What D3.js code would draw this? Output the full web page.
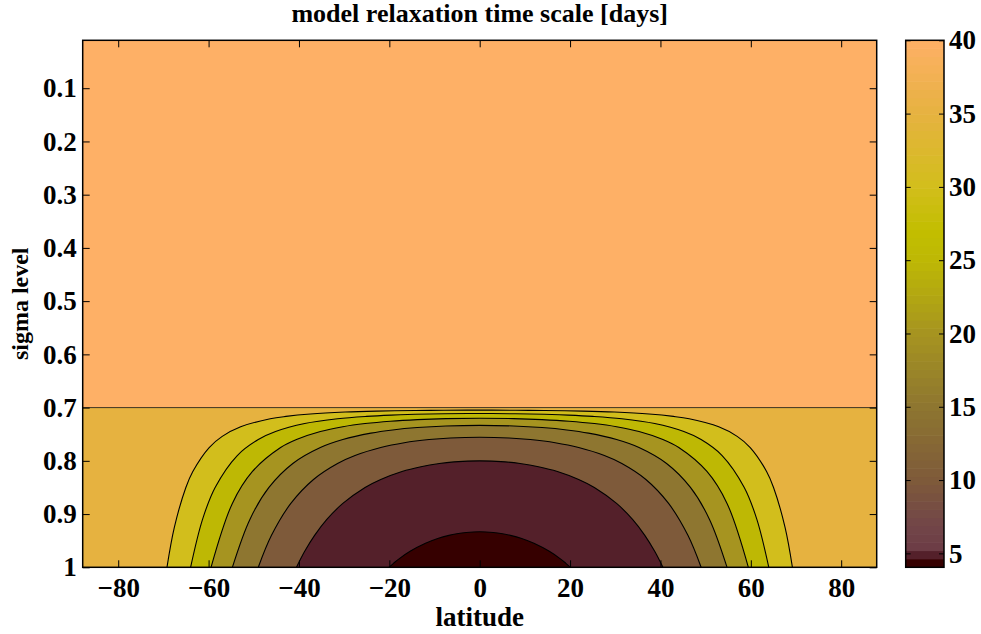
<!DOCTYPE html>
<html><head><meta charset="utf-8">
<script src="https://cdn.jsdelivr.net/npm/d3@7"></script>
<style>
body{margin:0;background:#fff}
svg{display:block}
text{font-family:"Liberation Serif","Times New Roman",serif;font-weight:bold;fill:#000}
</style>
</head><body>
<svg id="chart" width="981" height="634"></svg>
<script>
// ---------- data ----------
const titleText = "model relaxation time scale [days]";
const xLabelText = "latitude";
const yLabelText = "sigma level";
const latTicks = [-80, -60, -40, -20, 0, 20, 40, 60, 80];
const sigmaTicks = [0.1, 0.2, 0.3, 0.4, 0.5, 0.6, 0.7, 0.8, 0.9, 1];
const sigmaTickLabels = ["0.1","0.2","0.3","0.4","0.5","0.6","0.7","0.8","0.9","1"];
const colorbarTicks = [5, 10, 15, 20, 25, 30, 35, 40];
const latExtent = [-87.86, 87.86];
const sigmaExtent = [0.01, 1];
const fieldMin = 4.05, fieldMax = 40;
const upperSigma = 0.7;           // above this level tau = 40 days
const levels = [35, 30, 25, 20, 15, 10, 5];

// colormap stops (value in days -> colour)
const cmapValues = [4.05, 4.6, 4.61, 5.2, 5.21, 7, 10, 15, 20, 25, 27, 30, 35, 40];
const cmapColors = ["#360000","#360000","#54202a","#54202a","#6c3c46","#724648","#7e5a3a",
                    "#8e7630","#a69420","#beb804","#c2be00","#d2be1c","#e6b240","#feb066"];

// contour lines, [latitude, sigma]
const contour35 = [[-69.21,1],[-67.58,0.925],[-65.03,0.85],[-63.49,0.82],[-59.87,0.775],[-56.98,0.754],[-52.9,0.736],[-46.36,0.721],[-42.86,0.7165],[-37.47,0.712],[-29.8,0.7084],[-22.8,0.7066],[-14.3,0.7054],[-7.9,0.70495],[0,0.70476],[7.9,0.70495],[14.3,0.7054],[22.8,0.7066],[29.8,0.7084],[37.47,0.712],[42.86,0.7165],[46.36,0.721],[52.9,0.736],[56.98,0.754],[59.87,0.775],[63.49,0.82],[65.03,0.85],[67.58,0.925],[69.21,1]];
const contour30 = [[-63.98,1],[-61.34,0.91],[-58.55,0.85],[-53.65,0.79],[-49.0,0.76],[-45.18,0.745],[-38.73,0.73],[-31.46,0.721],[-25.04,0.7165],[-19.6,0.7141],[-14.3,0.7126],[-7.9,0.71155],[0,0.7111],[7.9,0.71155],[14.3,0.7126],[19.6,0.7141],[25.04,0.7165],[31.46,0.721],[38.73,0.73],[45.18,0.745],[49.0,0.76],[53.65,0.79],[58.55,0.85],[61.34,0.91],[63.98,1]];
const contour25 = [[-59.46,1],[-54.74,0.88],[-50.29,0.82],[-44.06,0.775],[-40.55,0.76],[-35.26,0.745],[-30.29,0.736],[-25.37,0.73],[-19.78,0.7255],[-13.8,0.7225],[-7.5,0.7207],[0,0.72],[7.5,0.7207],[13.8,0.7225],[19.78,0.7255],[25.37,0.73],[30.29,0.736],[35.26,0.745],[40.55,0.76],[44.06,0.775],[50.29,0.82],[54.74,0.88],[59.46,1]];
const contour20 = [[-54.74,1],[-50.86,0.91],[-46.64,0.85],[-41.36,0.805],[-35.26,0.775],[-30.29,0.76],[-24.08,0.748],[-19.27,0.742],[-13.8,0.7375],[-7.5,0.7345],[0,0.7333],[7.5,0.7345],[13.8,0.7375],[19.27,0.742],[24.08,0.748],[30.29,0.76],[35.26,0.775],[41.36,0.805],[46.64,0.85],[50.86,0.91],[54.74,1]];
const contour15 = [[-49.0,1],[-46.08,0.94],[-41.8,0.88],[-36.78,0.835],[-31.46,0.805],[-27.59,0.79],[-21.9,0.775],[-16.7,0.766],[-11.2,0.76],[-6.5,0.757],[0,0.7556],[6.5,0.757],[11.2,0.76],[16.7,0.766],[21.9,0.775],[27.59,0.79],[31.46,0.805],[36.78,0.835],[41.8,0.88],[46.08,0.94],[49.0,1]];
const contour10 = [[-40.55,1],[-38.73,0.97],[-36.54,0.94],[-33.83,0.91],[-30.29,0.88],[-25.37,0.85],[-21.9,0.835],[-17.2,0.82],[-13.0,0.811],[-8.93,0.805],[-5.7,0.802],[0,0.8],[5.7,0.802],[8.93,0.805],[13.0,0.811],[17.2,0.82],[21.9,0.835],[25.37,0.85],[30.29,0.88],[33.83,0.91],[36.54,0.94],[38.73,0.97],[40.55,1]];
const contour5 = [[-20.1,1],[-19.07,0.9925],[-18.0,0.985],[-15.4,0.97],[-12.0,0.955],[-9.29,0.946],[-6.8,0.94],[-5.06,0.937],[-2.98,0.9346],[0,0.9333],[2.98,0.9346],[5.06,0.937],[6.8,0.94],[9.29,0.946],[12.0,0.955],[15.4,0.97],[18.0,0.985],[19.07,0.9925],[20.1,1]];
const contourLines = [contour35, contour30, contour25, contour20, contour15, contour10, contour5];

// ---------- layout ----------
const svg = d3.select("#chart");
const plot = {left: 82.7, right: 876.7, top: 40.3, bottom: 567.3};
const cbar = {left: 905.7, right: 944, top: 40.3, bottom: 567.3};

const x = d3.scaleLinear().domain(latExtent).range([plot.left, plot.right]);
const y = d3.scaleLinear().domain(sigmaExtent).range([plot.top, plot.bottom]);
const cmap = d3.scaleLinear().domain(cmapValues).range(cmapColors).interpolate(d3.interpolateRgb).clamp(true);
const bandColor = L => cmap(L - 5 < fieldMin ? fieldMin : L - 5);

svg.append("defs").append("clipPath").attr("id", "clip")
  .append("rect").attr("x", plot.left).attr("y", plot.top)
  .attr("width", plot.right - plot.left).attr("height", plot.bottom - plot.top);

const g = svg.append("g").attr("clip-path", "url(#clip)");

// regions
g.append("rect").attr("x", x(latExtent[0])).attr("y", y(sigmaExtent[0]))
  .attr("width", x(latExtent[1]) - x(latExtent[0])).attr("height", y(upperSigma) - y(sigmaExtent[0]))
  .attr("fill", cmap(40));
g.append("rect").attr("x", x(latExtent[0])).attr("y", y(upperSigma))
  .attr("width", x(latExtent[1]) - x(latExtent[0])).attr("height", y(1) - y(upperSigma))
  .attr("fill", cmap(35));

const line = d3.line().x(d => x(d[0])).y(d => y(d[1])).curve(d3.curveCatmullRom.alpha(0.5));

contourLines.forEach((pts, i) => {
  g.append("path").attr("d", line(pts) + "Z").attr("fill", bandColor(levels[i])).attr("stroke", "none");
});
// contour strokes
g.append("line").attr("x1", x(latExtent[0])).attr("x2", x(latExtent[1]))
  .attr("y1", y(upperSigma)).attr("y2", y(upperSigma))
  .attr("stroke", "#000").attr("stroke-width", 1).attr("stroke-opacity", 0.75);
contourLines.forEach(pts => {
  g.append("path").attr("d", line(pts)).attr("fill", "none").attr("stroke", "#000").attr("stroke-width", 1.1);
});

// axes
const tickFont = 27;
const axB = d3.axisBottom(x).tickValues(latTicks).tickSizeInner(-7).tickSizeOuter(0).tickPadding(11)
  .tickFormat(d => d < 0 ? "\u2212" + Math.abs(d) : d);
const axT = d3.axisTop(x).tickValues(latTicks).tickSizeInner(-7).tickSizeOuter(0).tickFormat("");
const axL = d3.axisLeft(y).tickValues(sigmaTicks).tickSizeInner(-7).tickSizeOuter(0).tickPadding(6)
  .tickFormat((d, i) => sigmaTickLabels[i]);
const axR = d3.axisRight(y).tickValues(sigmaTicks).tickSizeInner(-7).tickSizeOuter(0).tickFormat("");

function styleAxis(sel) {
  sel.select(".domain").remove();
  sel.selectAll(".tick line").attr("stroke", "#000").attr("stroke-width", 1);
  sel.selectAll(".tick text").style("font-size", tickFont + "px").attr("font-weight", "bold");
}
svg.append("g").attr("transform", `translate(0,${plot.bottom})`).call(axB).call(styleAxis);
svg.append("g").attr("transform", `translate(0,${plot.top})`).call(axT).call(styleAxis);
svg.append("g").attr("transform", `translate(${plot.left},0)`).call(axL).call(styleAxis);
svg.append("g").attr("transform", `translate(${plot.right},0)`).call(axR).call(styleAxis);

svg.append("rect").attr("x", plot.left).attr("y", plot.top)
  .attr("width", plot.right - plot.left).attr("height", plot.bottom - plot.top)
  .attr("fill", "none").attr("stroke", "#000").attr("stroke-width", 1.5);

// colour bar
const cy = d3.scaleLinear().domain([fieldMin, fieldMax]).range([cbar.bottom, cbar.top]);
const nCells = 64;
const cells = d3.range(nCells).map(i => fieldMin + (fieldMax - fieldMin) * i / nCells);
const cellH = (fieldMax - fieldMin) / nCells;
svg.append("g").selectAll("rect").data(cells).join("rect")
  .attr("x", cbar.left).attr("width", cbar.right - cbar.left)
  .attr("y", d => cy(d + cellH) - 0.3).attr("height", d => cy(d) - cy(d + cellH) + 0.6)
  .attr("fill", d => cmap(d + cellH / 2));

const cbR = d3.axisRight(cy).tickValues(colorbarTicks).tickSizeInner(-5).tickSizeOuter(0).tickPadding(5);
const cbL = d3.axisLeft(cy).tickValues(colorbarTicks).tickSizeInner(-5).tickSizeOuter(0).tickFormat("");
svg.append("g").attr("transform", `translate(${cbar.right},0)`).call(cbR).call(styleAxis);
svg.append("g").attr("transform", `translate(${cbar.left},0)`).call(cbL).call(styleAxis);
svg.append("rect").attr("x", cbar.left).attr("y", cbar.top)
  .attr("width", cbar.right - cbar.left).attr("height", cbar.bottom - cbar.top)
  .attr("fill", "none").attr("stroke", "#000").attr("stroke-width", 1.5);

// titles
svg.append("text").attr("x", (plot.left + plot.right) / 2).attr("y", 22)
  .attr("text-anchor", "middle").style("font-size", "26px").text(titleText);
svg.append("text").attr("x", (plot.left + plot.right) / 2).attr("y", 626)
  .attr("text-anchor", "middle").style("font-size", "27px").text(xLabelText);
svg.append("text").attr("transform", `translate(28,${(plot.top + plot.bottom) / 2}) rotate(-90)`)
  .attr("text-anchor", "middle").style("font-size", "24px").text(yLabelText);
</script>
</body></html>
